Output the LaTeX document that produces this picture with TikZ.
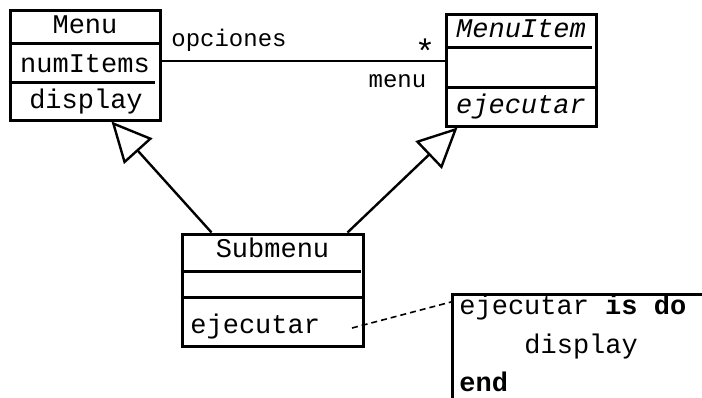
\documentclass[tikz,border=0pt]{standalone}
\usepackage{fontspec}
\setmonofont{Liberation Mono}
\usetikzlibrary{arrows.meta}
\tikzset{
  umlbox/.style={draw, line width=1.5pt, inner sep=0pt},
  classtext/.style={font=\fontsize{13.5}{16}\ttfamily, inner sep=0pt, anchor=base},
  roletext/.style={font=\fontsize{12}{14}\ttfamily, inner sep=0pt, anchor=base},
  inherit/.style={line width=1.2pt, -{Triangle[open, length=20pt, width=19pt]}},
}
\begin{document}
\begin{tikzpicture}[x=0.5pt, y=-0.5pt, line join=miter]
    \useasboundingbox (0,0) rectangle (702,397);
    % clases
    \node[umlbox, minimum width=75pt, minimum height=55pt] (menu) at (85,65) {};
    \node[umlbox, minimum width=75pt, minimum height=56pt] (menuitem) at (521,70) {};
    \node[umlbox, minimum width=90.5pt, minimum height=56pt] (submenu) at (272.5,290) {};
    \node[umlbox, anchor=north west, minimum width=140pt, minimum height=60pt] (note) at (451,293) {};
    % compartimentos
    \draw[line width=1.5pt] (menu.west |- 0,43) -- (menu.east |- 0,43)
        (menu.west |- 0,82) -- (155,82);
    \draw[line width=1.5pt] (menuitem.west |- 0,47) -- (592,47)
        (menuitem.west |- 0,87) -- (menuitem.east |- 0,87);
    \draw[line width=1.5pt] (submenu.west |- 0,271) -- (361,271)
        (submenu.west |- 0,297) -- (submenu.east |- 0,297);
    % textos
    \node[classtext] (menuname) at (85,33) {Menu};
    \node[classtext] (menuattr) at (85,72) {numItems};
    \node[classtext] (menuop) at (86,108) {display};
    \node[classtext] (itemname) at (521,37) {\itshape MenuItem};
    \node[classtext] (itemop) at (521,113) {\itshape ejecutar};
    \node[classtext] (subname) at (272.5,257) {Submenu};
    \node[classtext, anchor=base west] (subop) at (190,333) {ejecutar};
    \node[classtext, anchor=base west] (code1) at (459,314) {ejecutar \textbf{is do}};
    \node[classtext, anchor=base west] (code2) at (524,353) {display};
    \node[classtext, anchor=base west] (code3) at (459,391) {\textbf{end}};
    % asociacion
    \draw[line width=1pt] ([yshift=2pt]menu.east) -- ([yshift=2pt]menu.east -| menuitem.west);
    \node[roletext] (rolea) at (229,46) {opciones};
    \node[roletext] (roleb) at (397.5,87) {menu};
    \node[roletext, font=\fontsize{17}{20}\ttfamily] (mult) at (425,63) {*};
    % herencia
    \draw[inherit] ([xshift=15.5pt]submenu.north west) -- ([xshift=51.5pt]menu.south west);
    \draw[inherit] ([xshift=-8.5pt]submenu.north east) -- ([xshift=6.5pt]menuitem.south west);
    % nota
    \coordinate (opend) at (352,328);
    \draw[line width=0.8pt, dash pattern=on 3pt off 2pt] (opend) -- ([yshift=-4.5pt]note.north west);
\end{tikzpicture}
\end{document}
